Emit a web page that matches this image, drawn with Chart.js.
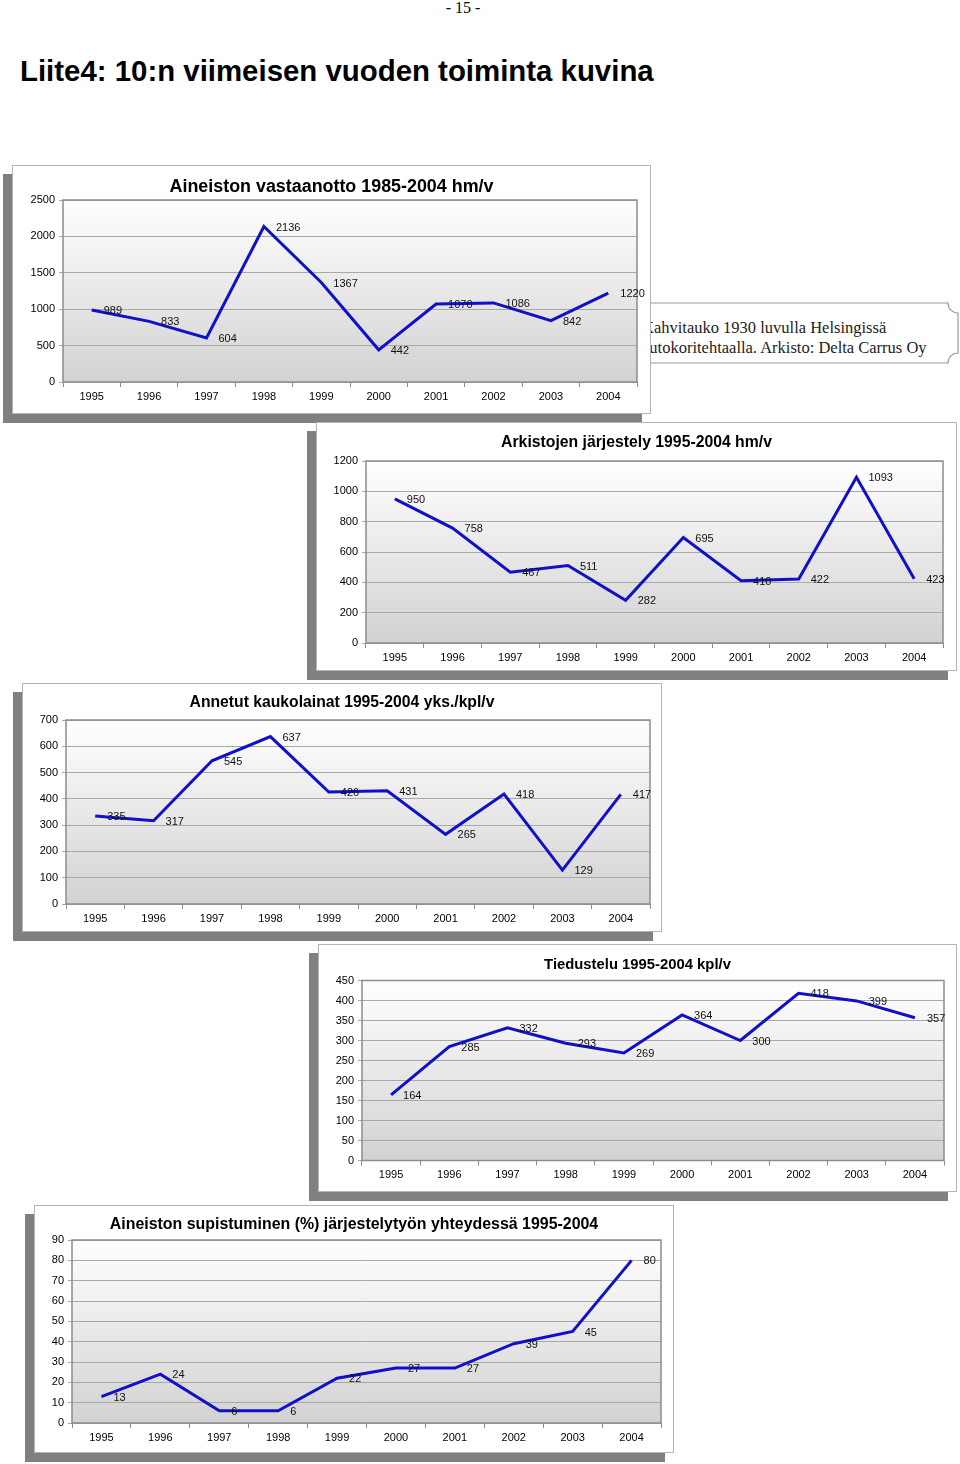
<!DOCTYPE html>
<html lang="fi">
<head>
<meta charset="utf-8">
<title>Liite4</title>
<script src="https://cdn.jsdelivr.net/npm/chart.js@4.4.1/dist/chart.umd.min.js"></script>
<style>
  body { margin: 0; width: 960px; height: 1464px; position: relative; overflow: hidden; background: #fff; }
  #pagenum { position: absolute; left: 0; top: -1px; width: 926px; text-align: center; font: 16px "Liberation Serif", serif; }
  h1 { position: absolute; left: 20px; top: 54px; margin: 0; line-height: 1; font: bold 29.4px "Liberation Sans", Arial, sans-serif; }
  #caption { position: absolute; left: 600px; top: 302px; width: 360px; height: 64px; }
  #caption svg { position: absolute; left: 0; top: 0; }
  #caption div { position: absolute; left: 42px; top: 16px; white-space: nowrap; line-height: 22px; color: #222; font: 16.5px "Liberation Serif", serif; }
  .frame { position: absolute; background: #fff; border: 1px solid #b4b4b4; box-sizing: border-box; box-shadow: -9px 9px 0 #808080; }
  .frame canvas { position: absolute; left: -1px; top: -1px; }
</style>
</head>
<body>
<div id="pagenum">- 15 -</div>
<h1>Liite4: 10:n viimeisen vuoden toiminta kuvina</h1>
<div id="caption">
  <svg width="360" height="64"><path d="M -10 1 H 348 A 10 10 0 0 0 358 11 V 51 A 10 10 0 0 0 348 61 H -10 Z" fill="#fff" stroke="#9a9a9a" stroke-width="1.2"/></svg>
  <div>Kahvitauko 1930 luvulla Helsingissä<br>autokoritehtaalla. Arkisto: Delta Carrus Oy</div>
</div>
<script>
const years = ['1995', '1996', '1997', '1998', '1999', '2000', '2001', '2002', '2003', '2004'];

const vastaanotto = [989, 833, 604, 2136, 1367, 442, 1070, 1086, 842, 1220];
const jarjestely = [950, 758, 467, 511, 282, 695, 410, 422, 1093, 423];
const kaukolainat = [335, 317, 545, 637, 426, 431, 265, 418, 129, 417];
const tiedustelu = [164, 285, 332, 293, 269, 364, 300, 418, 399, 357];
const supistuminen = [13, 24, 6, 6, 22, 27, 27, 39, 45, 80];

const titles = [
  'Aineiston vastaanotto 1985-2004 hm/v',
  'Arkistojen järjestely 1995-2004 hm/v',
  'Annetut kaukolainat 1995-2004 yks./kpl/v',
  'Tiedustelu 1995-2004 kpl/v',
  'Aineiston supistuminen (%) järjestelytyön yhteydessä 1995-2004'
];
const yMax = [2500, 1200, 700, 450, 90];
const yStep = [500, 200, 100, 50, 10];

// frame position/size on the page, plot area inside it (l,t,r,b), title centre y and width
const boxes = [
  { x: 12, y: 165, w: 639, h: 249, l: 51, t: 35, r: 625, b: 217, ty: 22, tw: 324 },
  { x: 316, y: 422, w: 641, h: 249, l: 50, t: 39, r: 627, b: 221, ty: 21, tw: 271 },
  { x: 22, y: 683, w: 640, h: 249, l: 44, t: 37, r: 628, b: 221, ty: 20, tw: 305 },
  { x: 318, y: 944, w: 639, h: 248, l: 44, t: 36.5, r: 626, b: 216.5, ty: 20.5, tw: 187 },
  { x: 34, y: 1205, w: 640, h: 248, l: 38, t: 35, r: 627, b: 218, ty: 20, tw: 489 }
];

const FONT = '"Liberation Sans", Arial, sans-serif';

const plotBackground = {
  id: 'plotBackground',
  beforeDraw(chart) {
    const { ctx, chartArea: a } = chart;
    const g = ctx.createLinearGradient(0, a.top, 0, a.bottom);
    g.addColorStop(0, '#ffffff');
    g.addColorStop(1, '#d2d2d2');
    ctx.save();
    ctx.fillStyle = g;
    ctx.fillRect(a.left, a.top, a.right - a.left, a.bottom - a.top);
    ctx.restore();
  },
  beforeDatasetsDraw(chart) {
    const { ctx, chartArea: a } = chart;
    ctx.save();
    ctx.strokeStyle = '#8c8c8c';
    ctx.lineWidth = 1.5;
    ctx.strokeRect(a.left, a.top, a.right - a.left, a.bottom - a.top);
    ctx.restore();
  }
};

// value next to each point, like the original spreadsheet labels
const valueLabels = {
  id: 'valueLabels',
  afterDatasetsDraw(chart) {
    const { ctx } = chart;
    const values = chart.data.datasets[0].data;
    ctx.save();
    ctx.font = '11px ' + FONT;
    ctx.fillStyle = '#111';
    ctx.textAlign = 'left';
    ctx.textBaseline = 'middle';
    chart.getDatasetMeta(0).data.forEach((pt, i) => {
      ctx.fillText(String(values[i]), pt.x + 12, pt.y + 1);
    });
    ctx.restore();
  }
};

function fitTitle(text, width) {
  const c = document.createElement('canvas').getContext('2d');
  c.font = 'bold 100px ' + FONT;
  return 100 * width / c.measureText(text).width;
}

function makeChart(box, title, values, max, step) {
  const frame = document.createElement('div');
  frame.className = 'frame';
  frame.style.left = box.x + 'px';
  frame.style.top = box.y + 'px';
  frame.style.width = box.w + 'px';
  frame.style.height = box.h + 'px';
  const canvas = document.createElement('canvas');
  canvas.width = box.w;
  canvas.height = box.h;
  frame.appendChild(canvas);
  document.body.appendChild(frame);

  const size = fitTitle(title, box.tw);
  const lh = size * 1.2;

  return new Chart(canvas, {
    type: 'line',
    data: {
      labels: years,
      datasets: [{
        data: values,
        borderColor: '#1010c8',
        borderWidth: 3,
        pointRadius: 0,
        tension: 0,
        fill: false
      }]
    },
    options: {
      responsive: false,
      animation: false,
      events: [],
      layout: { padding: 0 },
      plugins: {
        legend: { display: false },
        tooltip: { enabled: false },
        title: {
          display: true,
          text: title,
          color: '#000',
          font: { family: FONT, size: size, weight: 'bold', lineHeight: 1.2 },
          padding: { top: box.ty - lh / 2, bottom: box.t - box.ty - lh / 2 }
        }
      },
      scales: {
        x: {
          offset: true,
          grid: { offset: true, drawOnChartArea: false, tickLength: 5, color: '#8c8c8c' },
          border: { display: false },
          ticks: { padding: 3, maxRotation: 0, autoSkip: false, color: '#000', font: { family: FONT, size: 11 } },
          afterFit(s) { s.height = box.h - box.b; }
        },
        y: {
          min: 0,
          max: max,
          grid: { color: '#a8a8a8', tickLength: 4 },
          border: { display: false },
          ticks: {
            stepSize: step,
            padding: 4,
            color: '#000',
            font: { family: FONT, size: 11 },
            callback: (v) => String(v)
          },
          afterFit(s) { s.width = box.l; }
        },
        pad: {
          type: 'linear',
          position: 'right',
          grid: { display: false },
          border: { display: false },
          ticks: { display: false },
          afterFit(s) { s.width = box.w - box.r; }
        }
      }
    },
    plugins: [plotBackground, valueLabels]
  });
}

makeChart(boxes[0], titles[0], vastaanotto, yMax[0], yStep[0]);
makeChart(boxes[1], titles[1], jarjestely, yMax[1], yStep[1]);
makeChart(boxes[2], titles[2], kaukolainat, yMax[2], yStep[2]);
makeChart(boxes[3], titles[3], tiedustelu, yMax[3], yStep[3]);
makeChart(boxes[4], titles[4], supistuminen, yMax[4], yStep[4]);
</script>
</body>
</html>
